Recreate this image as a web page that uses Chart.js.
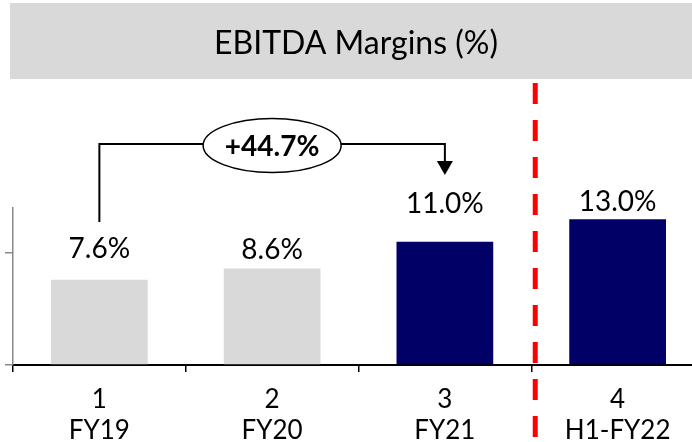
<!DOCTYPE html>
<html>
<head>
<meta charset="utf-8">
<script src="https://cdn.jsdelivr.net/npm/chart.js@4"></script>
<style>
  html, body { margin: 0; padding: 0; overflow: hidden; background: #fff; }
  #wrap { position: absolute; left: 0; top: 0; width: 704px; height: 442px; }
</style>
</head>
<body>
<div id="wrap"><canvas id="c" width="704" height="442"></canvas></div>
<script>
// --- data ---
const categories   = [['1', 'FY19'], ['2', 'FY20'], ['3', 'FY21'], ['4', 'H1-FY22']];
const margins      = [7.6, 8.6, 11.0, 13.0];
const marginLabels = ['7.6%', '8.6%', '11.0%', '13.0%'];
const barColors    = ['#d9d9d9', '#d9d9d9', '#000066', '#000066'];
const yTicks       = [0, 10];
const growthLabel  = '+44.7%';
const chartTitle   = 'EBITDA Margins (%)';

const FONT = 'Lato, "Open Sans", sans-serif';

// title band, value labels, growth bracket, red divider
const decor = {
  id: 'decor',
  beforeDraw(chart) {
    const ctx = chart.ctx;
    ctx.save();
    ctx.fillStyle = '#d9d9d9';
    ctx.fillRect(10, 3, chart.width - 10, 76);
    ctx.fillStyle = '#000';
    ctx.font = '32px ' + FONT;
    ctx.textAlign = 'center';
    ctx.textBaseline = 'middle';
    ctx.fillText(chartTitle, 356, 44);
    ctx.restore();
  },
  afterDatasetsDraw(chart) {
    const ctx  = chart.ctx;
    const bars = chart.getDatasetMeta(0).data;
    const gap  = [22, 10, 29, 8];   // label baseline above bar top

    ctx.save();
    ctx.fillStyle = '#000';
    ctx.font = '28px ' + FONT;
    ctx.textAlign = 'center';
    ctx.textBaseline = 'alphabetic';
    bars.forEach((b, i) => ctx.fillText(marginLabels[i], b.x, b.y - gap[i]));

    // bracket FY19 -> FY21
    const top = chart.chartArea.top;
    const yLine = top - 64;
    const x0 = bars[0].x, x2 = bars[2].x;
    ctx.strokeStyle = '#000';
    ctx.lineWidth = 2;
    ctx.beginPath();
    ctx.moveTo(x0, top + 14);
    ctx.lineTo(x0, yLine);
    ctx.lineTo(x2, yLine);
    ctx.lineTo(x2, top - 46);
    ctx.stroke();
    ctx.fillStyle = '#000';
    ctx.beginPath();
    ctx.moveTo(x2 - 8, top - 47);
    ctx.lineTo(x2 + 8, top - 47);
    ctx.lineTo(x2, top - 33);
    ctx.closePath();
    ctx.fill();

    // ellipse badge
    const cx = bars[1].x, cy = yLine + 1.5;
    ctx.beginPath();
    ctx.ellipse(cx, cy, 69, 27, 0, 0, Math.PI * 2);
    ctx.fillStyle = '#fff';
    ctx.fill();
    ctx.lineWidth = 1.5;
    ctx.stroke();
    ctx.fillStyle = '#000';
    ctx.font = 'bold 28px ' + FONT;
    ctx.textBaseline = 'middle';
    ctx.fillText(growthLabel, cx, cy + 1);
    ctx.restore();
  },
  afterDraw(chart) {
    const ctx  = chart.ctx;
    const bars = chart.getDatasetMeta(0).data;
    const x = (bars[2].x + bars[3].x) / 2 + 4;
    ctx.save();
    ctx.strokeStyle = '#ff0000';
    ctx.lineWidth = 5;
    ctx.setLineDash([21, 16]);
    ctx.beginPath();
    ctx.moveTo(x, 83);
    ctx.lineTo(x, chart.height);
    ctx.stroke();
    ctx.restore();
  }
};

new Chart(document.getElementById('c').getContext('2d'), {
  type: 'bar',
  data: {
    labels: categories,
    datasets: [{
      data: margins,
      backgroundColor: barColors,
      borderWidth: 0,
      categoryPercentage: 0.56,
      barPercentage: 1,
    }],
  },
  options: {
    responsive: false,
    animation: false,
    devicePixelRatio: 1,
    layout: { padding: { top: 208, left: 5, right: 0, bottom: 0 } },
    plugins: { legend: { display: false }, tooltip: { enabled: false } },
    scales: {
      x: {
        grid: { drawOnChartArea: false, drawTicks: true, tickLength: 7, color: '#000', lineWidth: 1.5, offset: true },
        border: { color: '#000', width: 2 },
        ticks: { color: '#000', font: { family: FONT, size: 26, lineHeight: '31px' }, padding: 12, maxRotation: 0 },
        afterFit: s => { s.height = 77; },
      },
      y: {
        min: 0,
        max: 14,
        afterBuildTicks: s => { s.ticks = yTicks.map(v => ({ value: v })); },
        ticks: { display: false },
        grid: { drawOnChartArea: false, drawTicks: true, tickLength: 8, color: '#888', lineWidth: 1.5 },
        border: { color: '#888', width: 1.5 },
        afterFit: s => { s.width = 8; },
      },
    },
  },
  plugins: [decor],
});
</script>
</body>
</html>
